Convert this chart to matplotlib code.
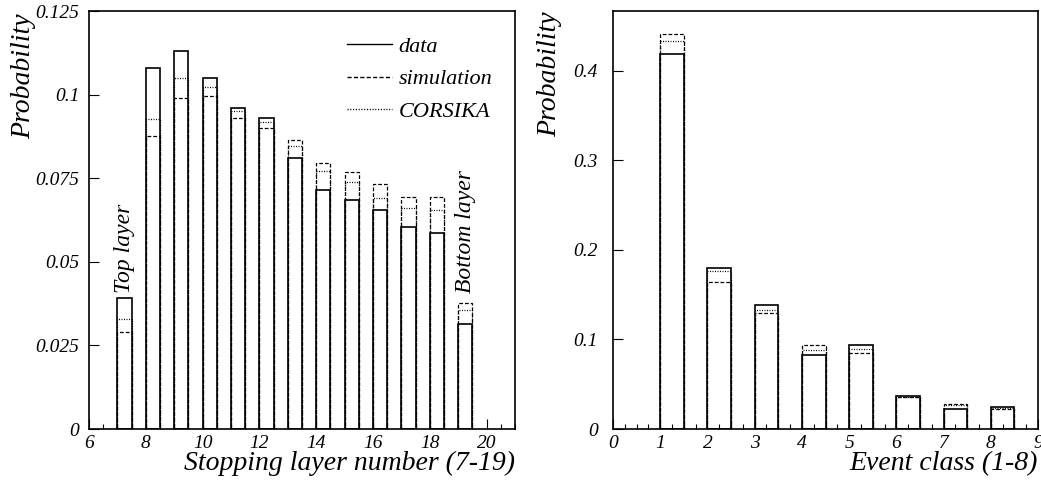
import matplotlib
matplotlib.use("Agg")
import matplotlib.pyplot as plt
from matplotlib.lines import Line2D
from matplotlib.ticker import MultipleLocator

plt.rcParams["font.family"] = ["Liberation Serif", "DejaVu Serif"]
plt.rcParams["font.style"] = "italic"

# stopping layer distribution
layers = list(range(7, 20))
layer_data = [0.0393, 0.108, 0.113, 0.105, 0.096, 0.093, 0.081,
              0.0715, 0.0685, 0.0655, 0.0605, 0.0585, 0.0315]
layer_sim = [0.029, 0.0876, 0.099, 0.0996, 0.093, 0.090, 0.0865,
             0.0795, 0.0768, 0.0732, 0.0695, 0.0695, 0.0378]
layer_corsika = [0.0328, 0.0927, 0.105, 0.1022, 0.095, 0.0917, 0.0847,
                 0.0772, 0.0740, 0.0690, 0.0660, 0.0655, 0.0356]
layer_ticks = [6, 8, 10, 12, 14, 16, 18, 20]
layer_yticks = [0, 0.025, 0.05, 0.075, 0.1, 0.125]
layer_ylabels = ["0", "0.025", "0.05", "0.075", "0.1", "0.125"]

# event class distribution
classes = list(range(1, 9))
class_data = [0.419, 0.180, 0.139, 0.083, 0.0944, 0.037, 0.022, 0.0248]
class_sim = [0.441, 0.164, 0.130, 0.0933, 0.0848, 0.036, 0.0275, 0.022]
class_corsika = [0.433, 0.176, 0.133, 0.0878, 0.0896, 0.036, 0.0270, 0.023]
class_ticks = list(range(0, 10))
class_yticks = [0, 0.1, 0.2, 0.3, 0.4]
class_ylabels = ["0", "0.1", "0.2", "0.3", "0.4"]

DASH = (0, (3.0, 1.6))
DOT = (0, (0.8, 1.2))


def draw_hists(ax, x, data, sim, corsika):
    ax.bar(x, corsika, width=0.5, align="edge", fill=False,
           edgecolor="black", linewidth=0.9, linestyle=DOT)
    ax.bar(x, sim, width=0.5, align="edge", fill=False,
           edgecolor="black", linewidth=0.9, linestyle=DASH)
    ax.bar(x, data, width=0.5, align="edge", fill=False,
           edgecolor="black", linewidth=1.2, linestyle="-")


def style_axes(ax, ypad):
    for s in ax.spines.values():
        s.set_linewidth(1.2)
    ax.tick_params(which="both", direction="in", top=False, right=False,
                   labelsize=14, width=0.8)
    ax.tick_params(which="major", length=7)
    ax.tick_params(which="minor", length=3.5)
    ax.tick_params(axis="x", pad=4)
    ax.tick_params(axis="y", pad=ypad)


fig = plt.figure(figsize=(10.41, 4.84), dpi=100)
ax1 = fig.add_axes([89 / 1041, 55 / 484, 426 / 1041, 418 / 484])
ax2 = fig.add_axes([613 / 1041, 55 / 484, 425 / 1041, 418 / 484])

# left panel
draw_hists(ax1, layers, layer_data, layer_sim, layer_corsika)
ax1.set_xlim(6, 21)
ax1.set_ylim(0, 0.125)
ax1.set_xticks(layer_ticks)
ax1.xaxis.set_minor_locator(MultipleLocator(0.5))
ax1.set_yticks(layer_yticks)
ax1.set_yticklabels(layer_ylabels)
style_axes(ax1, 7)
ax1.set_xlabel("Stopping layer number (7-19)", fontsize=20, loc="right")
ax1.xaxis.set_label_coords(1.0, -0.052)
ax1.set_ylabel("Probability", fontsize=20, loc="top")
ax1.yaxis.set_label_coords(-0.125, 0.995)

ax1.text(layers[0] + 0.25, layer_data[0] + 0.0015, "Top layer", rotation=90,
         ha="center", va="bottom", fontsize=17)
ax1.text(layers[-1] + 0.25, layer_sim[-1] + 0.003, "Bottom layer", rotation=90,
         ha="center", va="bottom", fontsize=17)

handles = [Line2D([], [], color="black", lw=1.0, ls="-"),
           Line2D([], [], color="black", lw=1.0, ls=DASH),
           Line2D([], [], color="black", lw=1.0, ls=DOT)]
ax1.legend(handles, ["data", "simulation", "CORSIKA"], loc="upper left",
           bbox_to_anchor=(0.606, 0.94), frameon=False, fontsize=16,
           handlelength=2.0, handletextpad=0.3, labelspacing=0.55,
           borderpad=0, borderaxespad=0)

# right panel
draw_hists(ax2, classes, class_data, class_sim, class_corsika)
ax2.set_xlim(0, 9)
ax2.set_ylim(0, 0.467)
ax2.set_xticks(class_ticks)
ax2.xaxis.set_minor_locator(MultipleLocator(0.25))
ax2.set_yticks(class_yticks)
ax2.set_yticklabels(class_ylabels)
style_axes(ax2, 11)
ax2.set_xlabel("Event class (1-8)", fontsize=20, loc="right")
ax2.xaxis.set_label_coords(1.0, -0.052)
ax2.set_ylabel("Probability", fontsize=20, loc="top")
ax2.yaxis.set_label_coords(-0.12, 1.0)

fig.savefig("out.png", dpi=100)
